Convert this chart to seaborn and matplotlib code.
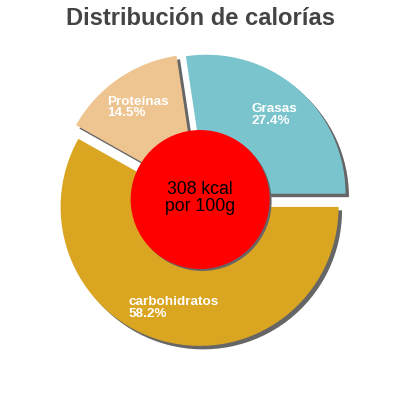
import numpy as np
import matplotlib
matplotlib.use("Agg")
import matplotlib.pyplot as plt
import seaborn as sns

title = "Distribución de calorías"
labels = ["Grasas", "Proteínas", "carbohidratos"]
shares = [27.4, 14.5, 58.2]
colors = ["#7ac5cd", "#eec591", "#daa520"]
center_text = "308 kcal\npor 100g"

sns.set_theme(style="white")
plt.rcParams["font.family"] = ["Liberation Sans", "DejaVu Sans"]

fig = plt.figure(figsize=(4, 4), dpi=100)
ax = fig.add_axes([0, 0, 1, 1])

explode = [0.055] * len(shares)
shadow_col = "#666666"
off = 0.025

# shadow layer first, then the real slices
ax.pie(shares, colors=[shadow_col] * len(shares), explode=explode,
       startangle=0, counterclock=True, center=(off, -off),
       wedgeprops=dict(linewidth=0))
wedges, _ = ax.pie(shares, colors=colors, explode=explode,
                   startangle=0, counterclock=True,
                   wedgeprops=dict(linewidth=0))

for w, lab, val in zip(wedges, labels, shares):
    mid = np.deg2rad((w.theta1 + w.theta2) / 2)
    cx, cy = w.center
    x = cx + 0.75 * w.r * np.cos(mid)
    y = cy + 0.75 * w.r * np.sin(mid)
    ax.text(x, y, f"{lab}\n{val}%", color="white", fontsize=9.7,
            fontweight="bold", ha="center", va="center",
            multialignment="left", linespacing=0.95)

ax.add_patch(plt.Circle((0.004, -0.014), 0.5, color=shadow_col, lw=0))
ax.add_patch(plt.Circle((-0.01, 0.0), 0.5, color="#ff0000", lw=0))
ax.text(-0.01, 0.01, center_text, fontsize=12.7, color="black",
        ha="center", va="center", linespacing=1.0)

ax.set_xlim(-1.45, 1.428)
ax.set_ylim(-1.442, 1.435)
ax.set_aspect("equal")
ax.axis("off")

fig.text(0.5, 0.9375, title, ha="center", va="baseline",
         fontsize=17.1, fontweight="bold", color="#444444")

fig.savefig("out.png", dpi=100)
